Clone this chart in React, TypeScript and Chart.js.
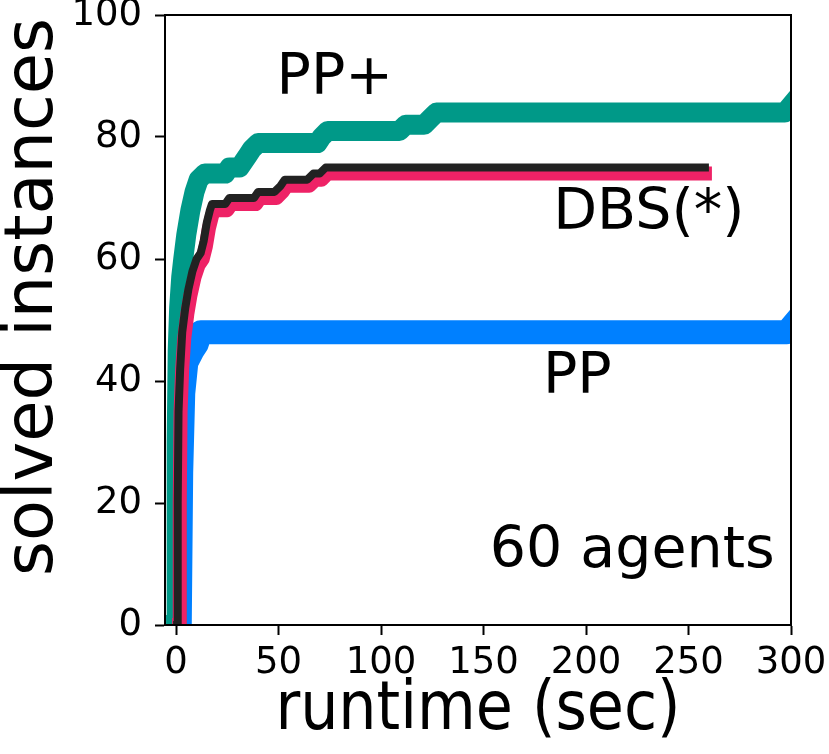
import React, { useEffect, useRef } from "react";
import { Chart, registerables } from "chart.js";

Chart.register(...registerables);

// ---- data ----
const xTickValues = [0, 50, 100, 150, 200, 250, 300];
const yTickValues = [0, 20, 40, 60, 80, 100];

// DBS (black)
const dbsX = [0.5, 0.8, 1.2, 2, 3, 4.5, 6, 8, 10, 12, 13.5, 15, 16.5, 17.5, 24, 26, 38, 40, 48, 51, 53, 64, 67, 70, 73, 258];
const dbsY = [0, 20, 35, 42, 48, 52, 55, 58, 60, 61, 63, 66, 68, 69, 69, 70, 70, 71, 71, 72, 73, 73, 74, 74, 75, 75];

// DBS* (pink)
const dbsStarX = [1.5, 1.8, 2.2, 3, 4, 5.5, 7, 9, 11, 13, 14.5, 16, 17.5, 18.5, 25, 27, 39, 41, 49, 52, 54, 65, 68, 71, 74, 258];
const dbsStarY = [0, 20, 35, 42, 47, 51, 54, 57, 59, 60, 62, 65, 67, 68, 68, 69, 69, 70, 70, 71, 72, 72, 73, 73, 74, 74];

// PP+ (teal)
const ppPlusX = [0, 0.3, 0.8, 1.5, 2.5, 3.5, 5, 7, 9, 11, 14, 24, 26, 31, 33, 35, 37, 40, 69, 71, 74, 109, 112, 121, 124, 127, 297, 301];
const ppPlusY = [0, 30, 45, 52, 57, 60, 64, 68, 71, 73, 74, 74, 75, 75, 76, 77, 78, 79, 79, 80, 81, 81, 82, 82, 83, 84, 84, 85.6];

// PP (blue)
const ppX = [1.8, 2.5, 3.5, 5, 8, 10, 11, 12, 298, 301];
const ppY = [0, 25, 38, 43, 45, 46, 47, 48, 48, 49.2];

// text labels placed in data coordinates
const noteTexts = ["PP+", "DBS(*)", "PP", "60 agents"];
const noteX = [49, 184, 179, 153];
const noteY = [87, 65, 38, 9.5];

const xTitle = "runtime (sec)";
const yTitle = "solved instances";

const FONT = "'DejaVu Sans', 'Liberation Sans', sans-serif";
const FONT_COND = "'DejaVu Sans Condensed', 'DejaVu Sans', sans-serif";

const toPoints = (xs: number[], ys: number[]) => xs.map((x, i) => ({ x, y: ys[i] }));

const framePlugin = {
  id: "frame",
  afterDraw(chart: any) {
    const { ctx, chartArea } = chart;
    ctx.save();
    ctx.strokeStyle = "#000";
    ctx.lineWidth = 2;
    ctx.strokeRect(chartArea.left, chartArea.top, chartArea.right - chartArea.left, chartArea.bottom - chartArea.top);
    // notes
    ctx.fillStyle = "#000";
    ctx.font = `57px ${FONT}`;
    ctx.textAlign = "left";
    ctx.textBaseline = "alphabetic";
    const xs = chart.scales.x;
    const ys = chart.scales.y;
    noteTexts.forEach((t, i) => {
      ctx.fillText(t, xs.getPixelForValue(noteX[i]), ys.getPixelForValue(noteY[i]));
    });
    // y axis title
    ctx.save();
    ctx.font = `67px ${FONT}`;
    ctx.textAlign = "center";
    ctx.textBaseline = "alphabetic";
    ctx.translate(52, (chartArea.top + chartArea.bottom) / 2 - 23);
    ctx.rotate(-Math.PI / 2);
    ctx.fillText(yTitle, 0, 0);
    ctx.restore();
    ctx.restore();
  },
};

export default function App() {
  const ref = useRef<HTMLCanvasElement | null>(null);

  useEffect(() => {
    if (!ref.current) return;
    const common = {
      showLine: true,
      pointRadius: 0,
      pointHoverRadius: 0,
      fill: false,
      tension: 0,
      borderJoinStyle: "round" as const,
      borderCapStyle: "square" as const,
      clip: 0,
    };
    const chart = new Chart(ref.current, {
      type: "scatter",
      data: {
        datasets: [
          { ...common, label: "DBS", data: toPoints(dbsX, dbsY), borderColor: "#222222", backgroundColor: "#222222", borderWidth: 8 },
          { ...common, label: "DBS*", data: toPoints(dbsStarX, dbsStarY), borderColor: "#EE2266", backgroundColor: "#EE2266", borderWidth: 14 },
          { ...common, label: "PP+", data: toPoints(ppPlusX, ppPlusY), borderColor: "#009988", backgroundColor: "#009988", borderWidth: 20 },
          { ...common, label: "PP", data: toPoints(ppX, ppY), borderColor: "#0080FF", backgroundColor: "#0080FF", borderWidth: 24 },
        ],
      },
      options: {
        animation: false,
        responsive: false,
        maintainAspectRatio: false,
        devicePixelRatio: 1,
        layout: { padding: { top: 15, right: 38, left: 0, bottom: 0 } },
        plugins: { legend: { display: false }, tooltip: { enabled: false } },
        events: [],
        scales: {
          x: {
            type: "linear",
            min: -5.4,
            max: 300,
            afterBuildTicks: (s: any) => {
              s.ticks = xTickValues.map((v) => ({ value: v }));
            },
            afterFit: (s: any) => {
              s.height = 129;
              s.paddingLeft = 0;
              s.paddingRight = 0;
            },
            ticks: {
              autoSkip: false,
              maxRotation: 0,
              color: "#000",
              padding: 6,
              font: { size: 37, family: FONT },
            },
            grid: { display: true, drawOnChartArea: false, drawTicks: true, tickLength: 10, tickWidth: 2, tickColor: "#000" },
            border: { display: true, color: "#000", width: 2 },
            title: {
              display: true,
              text: xTitle,
              color: "#000",
              font: { size: 67, family: FONT_COND, lineHeight: 1.2 },
              padding: { top: 0, bottom: 2 },
            },
          },
          y: {
            type: "linear",
            min: 0,
            max: 100,
            afterBuildTicks: (s: any) => {
              s.ticks = yTickValues.map((v) => ({ value: v }));
            },
            afterFit: (s: any) => {
              s.width = 165;
              s.paddingTop = 0;
              s.paddingBottom = 0;
            },
            ticks: {
              autoSkip: false,
              color: "#000",
              padding: 13,
              font: { size: 37, family: FONT },
            },
            grid: { display: true, drawOnChartArea: false, drawTicks: true, tickLength: 10, tickWidth: 2, tickColor: "#000" },
            border: { display: true, color: "#000", width: 2 },
          },
        },
      },
      plugins: [framePlugin],
    } as any);
    return () => chart.destroy();
  }, []);

  return (
    <div style={{ position: "absolute", left: 0, top: 0, width: 829, height: 754, background: "#fff" }}>
      <canvas ref={ref} width={829} height={754} style={{ width: 829, height: 754, display: "block" }} />
    </div>
  );
}
